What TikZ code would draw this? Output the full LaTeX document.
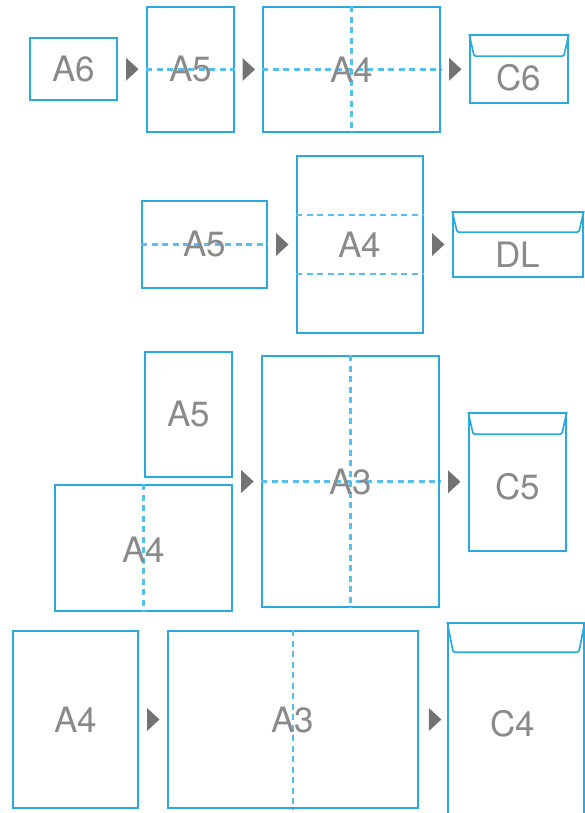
\documentclass[tikz,border=0pt]{standalone}
\usepackage{fontspec}
\setmainfont{TeX Gyre Heros}
\usetikzlibrary{calc}
\definecolor{boxblue}{HTML}{2AA9E0}
\definecolor{foldblue}{HTML}{55C0EE}
\definecolor{arrowgray}{HTML}{737373}
\definecolor{labelgray}{HTML}{8A8A8A}
\tikzset{
  sheet/.style={draw=boxblue, line width=1.7pt, inner sep=0pt, text=labelgray,
    font=\fontsize{35}{40}\selectfont},
  envlabel/.style={inner sep=0pt, text=labelgray, font=\fontsize{35}{40}\selectfont},
  fold/.style={draw=foldblue, line width=2.2pt, dash pattern=on 6pt off 4.5pt},
  flap/.style={draw=boxblue, line width=1.7pt, rounded corners=1.5pt},
  tri/.pic={\fill[arrowgray] (-6,-11.5) -- (6.5,0) -- (-6,11.5) -- cycle;}
}
\begin{document}
\begin{tikzpicture}[x=1pt,y=-1pt]
\useasboundingbox (0,0) rectangle (585,813);
\clip (0,0) rectangle (585,813);
% ---------- Row 1 ----------
\node[sheet, minimum width=87pt, minimum height=62pt] (a6) at (73.5,69) {A6};
\node[sheet, minimum width=87pt, minimum height=125pt] (a5t) at (190.5,69.5) {};
\node[sheet, minimum width=177pt, minimum height=125pt] (a4t) at (351.5,69.5) {};
\node[sheet, minimum width=98pt, minimum height=68pt] (c6) at (519,69) {};
\draw[fold] (a5t.west) -- (a5t.east);
\draw[fold] (a4t.west) -- (a4t.east);
\draw[fold] (a4t.north) -- (a4t.south);
\node[envlabel] (a5tl) at (a5t.center) {A5};
\node[envlabel] (a4tl) at (a4t.center) {A4};
\draw[flap] (c6.north west) -- ($(c6.north west)+(5,22)$) -- ($(c6.north east)+(-5,22)$) -- (c6.north east);
\node[envlabel] (c6l) at (519,78) {C6};
\path ($(a6.east)!0.5!(a5t.west)$) pic {tri};
\path ($(a5t.east)!0.5!(a4t.west)$) pic {tri};
\path ($(a4t.east)!0.5!(c6.west)$) pic {tri};
% ---------- Row 2 ----------
\node[sheet, minimum width=125pt, minimum height=87pt] (a5m) at (204.5,244.5) {};
\node[sheet, minimum width=126pt, minimum height=177pt] (a4m) at (360,244.5) {};
\node[sheet, minimum width=130pt, minimum height=65pt] (dl) at (518,244.5) {};
\draw[fold] (a5m.west) -- (a5m.east);
\draw[fold] ($(a4m.north west)!1/3!(a4m.south west)$) -- ($(a4m.north east)!1/3!(a4m.south east)$);
\draw[fold] ($(a4m.north west)!2/3!(a4m.south west)$) -- ($(a4m.north east)!2/3!(a4m.south east)$);
\node[envlabel] (a5ml) at (a5m.center) {A5};
\node[envlabel] (a4ml) at (a4m.center) {A4};
\draw[flap] (dl.north west) -- ($(dl.north west)+(5,21)$) -- ($(dl.north east)+(-5,21)$) -- (dl.north east);
\node[envlabel] (dll) at (518,255) {DL};
\path ($(a5m.east)!0.5!(a4m.west)$) pic {tri};
\path ($(a4m.east)!0.5!(dl.west)$) pic {tri};
% ---------- Row 3 ----------
\node[sheet, minimum width=87pt, minimum height=125pt] (a5b) at (188.5,414.5) {A5};
\node[sheet, minimum width=177pt, minimum height=126pt] (a4b) at (143.5,548) {};
\node[sheet, minimum width=177pt, minimum height=251pt] (a3b) at (350.5,481.5) {};
\node[sheet, minimum width=97pt, minimum height=138pt] (c5) at (517.5,482) {};
\draw[fold] (a4b.north) -- (a4b.south);
\draw[fold] (a3b.west) -- (a3b.east);
\draw[fold] (a3b.north) -- (a3b.south);
\node[envlabel] (a4bl) at (143.5,550) {A4};
\node[envlabel] (a3bl) at (a3b.center) {A3};
\draw[flap] (c5.north west) -- ($(c5.north west)+(5,22)$) -- ($(c5.north east)+(-5,22)$) -- (c5.north east);
\node[envlabel] (c5l) at (517.5,487) {C5};
\path ($(a3b.west)+(-14,0)$) pic {tri};
\path ($(a3b.east)!0.5!(c5.west)$) pic {tri};
% ---------- Row 4 ----------
\node[sheet, minimum width=125pt, minimum height=177pt] (a4c) at (75.5,719.5) {A4};
\node[sheet, minimum width=250pt, minimum height=177pt] (a3c) at (293,719.5) {};
\node[sheet, minimum width=136pt, minimum height=260pt] (c4) at (516,753) {};
\draw[fold] (a3c.north) -- (a3c.south);
\node[envlabel] (a3cl) at (a3c.center) {A3};
\draw[flap] (c4.north west) -- ($(c4.north west)+(6,30)$) -- ($(c4.north east)+(-6,30)$) -- (c4.north east);
\node[envlabel] (c4l) at (513,724) {C4};
\path ($(a4c.east)!0.5!(a3c.west)$) pic {tri};
\path ($(a3c.east)+(16,0)$) pic {tri};
\end{tikzpicture}
\end{document}
